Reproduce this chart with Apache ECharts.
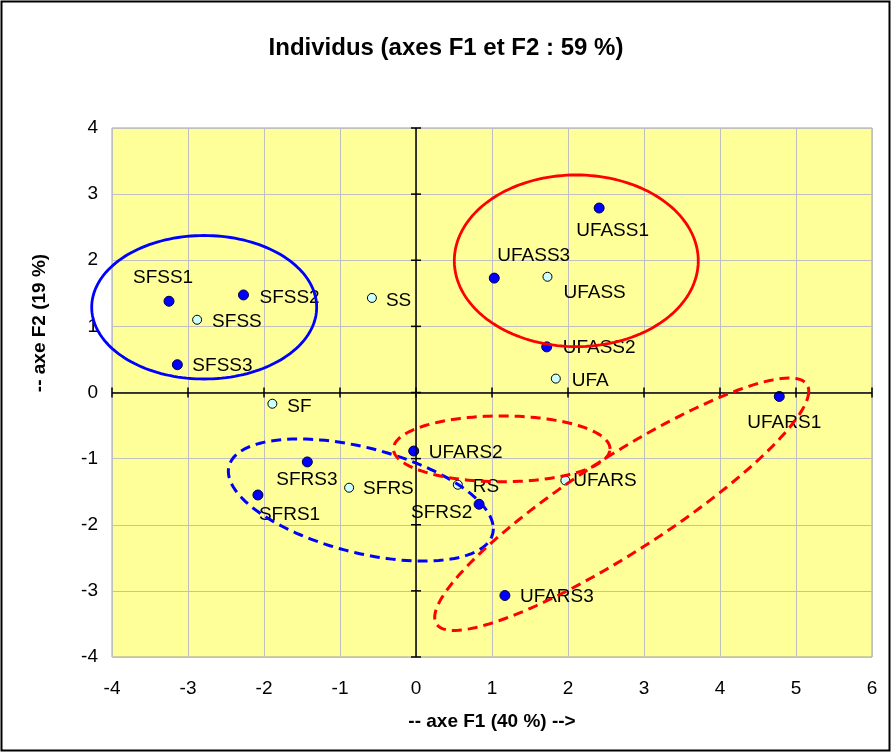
<!DOCTYPE html>
<html><head><meta charset="utf-8">
<script src="https://cdn.jsdelivr.net/npm/echarts@6/dist/echarts.min.js"></script>
<style>html,body{margin:0;padding:0;background:#fff}#c{width:892px;height:755px}</style>
</head><body><div id="c"></div>
<script>
// ---- data ----
const activeNames = ['SFSS1','SFSS2','SFSS3','SFRS1','SFRS2','SFRS3','UFASS1','UFASS2','UFASS3','UFARS1','UFARS2','UFARS3'];
const activeF1    = [-3.25, -2.27, -3.14, -2.08, 0.83, -1.43, 2.41, 1.72, 1.03, 4.78, -0.03, 1.17];
const activeF2    = [1.38, 1.475, 0.42, -1.55, -1.69, -1.05, 2.79, 0.69, 1.73, -0.06, -0.885, -3.07];

const supNames = ['SFSS','SS','SF','SFRS','RS','UFASS','UFA','UFARS'];
const supF1    = [-2.88, -0.58, -1.89, -0.88, 0.55, 1.73, 1.84, 1.965];
const supF2    = [1.10, 1.43, -0.17, -1.44, -1.395, 1.75, 0.21, -1.33];

const xTickValues = [-4,-3,-2,-1,0,1,2,3,4,5,6];
const yTickValues = [-4,-3,-2,-1,0,1,2,3,4];

const titleText = 'Individus (axes F1 et F2 : 59 %)';
const xAxisTitle = '-- axe F1 (40 %) -->';
const yAxisTitle = '-- axe F2 (19 %)';

// ---- annotation ellipses (centre + conjugate semi-diameters, in axis units) ----
const ellipses = [
  {c:[-2.787, 1.289], u:[1.480, 0], v:[0, 1.085], color:'#0000FF', dashed:false},
  {c:[2.109, 1.992],  u:[1.605, 0], v:[0, 1.298], color:'#FF0000', dashed:false},
  {c:[-0.726, -1.626], u:[1.743, -0.434], v:[0, -0.815], color:'#0000FF', dashed:true},
  {c:[1.128, -0.852], u:[1.425, 0], v:[0, 0.498], color:'#FF0000', dashed:true},
  {c:[2.707, -1.690], u:[2.461, 1.710], v:[0, -0.847], color:'#FF0000', dashed:true}
];

// ---- label placement (style, offsets in px from the marker centre) ----
const labelOffsets = {
  SFSS1:[-36,-23], SFSS2:[16,3], SFSS3:[15,1], SFRS1:[1,20], SFRS2:[-68,9], SFRS3:[-31,18],
  UFASS1:[-23,23], UFASS2:[16,1], UFASS3:[3,-22], UFARS1:[-32,26], UFARS2:[15,2], UFARS3:[15,1],
  SFSS:[15,2], SS:[14,3], SF:[15,3], SFRS:[14,1], RS:[15,2], UFASS:[16,16], UFA:[16,2], UFARS:[8,0]
};

const FONT = '"Liberation Sans", Arial, Helvetica, sans-serif';

function points(names, xs, ys) {
  return names.map((n, i) => ({ name: n, value: [xs[i], ys[i]], label: { offset: labelOffsets[n] } }));
}

const tickData = xTickValues.map(v => [v, 0, 0]).concat(yTickValues.map(v => [0, v, 1]));

const chart = echarts.init(document.getElementById('c'), null, {renderer: 'canvas'});

const labelBase = {
  show: true, formatter: '{b}', position: 'inside', align: 'left', verticalAlign: 'middle',
  fontFamily: FONT, fontSize: 19, color: '#000'
};

chart.setOption({
  animation: false,
  backgroundColor: '#fff',
  title: {
    text: titleText, left: 'center', top: 36, padding: 0,
    textStyle: {fontFamily: FONT, fontSize: 24, fontWeight: 'bold', color: '#000'}
  },
  grid: {
    left: 112, top: 128, width: 760, height: 529, show: true,
    backgroundColor: '#FFFF99', borderColor: '#A0A0A0', borderWidth: 1
  },
  xAxis: {
    type: 'value', min: -4, max: 6, interval: 1,
    axisLine: {show: false, onZero: false}, axisTick: {show: false},
    splitLine: {show: true, lineStyle: {color: '#C0C0C0', width: 1}},
    axisLabel: {fontFamily: FONT, fontSize: 19, color: '#000', margin: 22},
    name: xAxisTitle, nameLocation: 'middle', nameGap: 55,
    nameTextStyle: {fontFamily: FONT, fontSize: 19, fontWeight: 'bold', color: '#000'}
  },
  yAxis: {
    type: 'value', min: -4, max: 4, interval: 1,
    axisLine: {show: false, onZero: false}, axisTick: {show: false},
    splitLine: {show: true, lineStyle: {color: '#C0C0C0', width: 1}},
    axisLabel: {fontFamily: FONT, fontSize: 19, color: '#000', margin: 14}
  },
  graphic: [
    {type: 'rect', shape: {x: 1.5, y: 1.5, width: 888, height: 749},
     style: {fill: 'none', stroke: '#000', lineWidth: 2}, z: 100, silent: true},
    {type: 'text', x: 40, y: 323, rotation: Math.PI / 2,
     style: {text: yAxisTitle, fontFamily: FONT, fontSize: 19, fontWeight: 'bold', fill: '#000',
             align: 'center', verticalAlign: 'middle'}, silent: true}
  ],
  series: [
    {
      type: 'custom', name: 'axes', z: 3, silent: true,
      data: tickData,
      renderItem: function (params, api) {
        const p = api.coord([api.value(0), api.value(1)]);
        const dir = api.value(2);
        const h = 5;
        const shape = dir === 0
          ? {x1: p[0], y1: p[1] - h, x2: p[0], y2: p[1] + h}
          : {x1: p[0] - h, y1: p[1], x2: p[0] + h, y2: p[1]};
        return {type: 'line', shape: shape, style: {stroke: '#000', lineWidth: 1.5}};
      },
      markLine: {
        silent: true, symbol: 'none', label: {show: false},
        lineStyle: {color: '#000', width: 1.5, type: 'solid'},
        data: [{xAxis: 0}, {yAxis: 0}]
      }
    },
    {
      type: 'scatter', name: 'actifs', z: 4,
      symbol: 'circle', symbolSize: 10,
      itemStyle: {color: '#0000FF', borderColor: '#000040', borderWidth: 1, opacity: 1},
      label: labelBase,
      data: points(activeNames, activeF1, activeF2)
    },
    {
      type: 'scatter', name: 'supplementaires', z: 4,
      symbol: 'circle', symbolSize: 9,
      itemStyle: {color: '#CCFFFF', borderColor: '#000', borderWidth: 1, opacity: 1},
      label: labelBase,
      data: points(supNames, supF1, supF2)
    },
    {
      type: 'custom', name: 'ellipses', z: 6, silent: true,
      data: ellipses.map((e, i) => [e.c[0], e.c[1], i]),
      renderItem: function (params, api) {
        const e = ellipses[api.value(2)];
        const n = 160;
        const pts = [];
        for (let k = 0; k < n; k++) {
          const t = 2 * Math.PI * k / n;
          const x = e.c[0] + e.u[0] * Math.cos(t) + e.v[0] * Math.sin(t);
          const y = e.c[1] + e.u[1] * Math.cos(t) + e.v[1] * Math.sin(t);
          pts.push(api.coord([x, y]));
        }
        return {
          type: 'polygon', shape: {points: pts},
          style: {fill: 'none', stroke: e.color, lineWidth: e.dashed ? 3 : 2.8,
                  lineDash: e.dashed ? [10, 6] : null}
        };
      }
    }
  ]
});
</script>
</body></html>
